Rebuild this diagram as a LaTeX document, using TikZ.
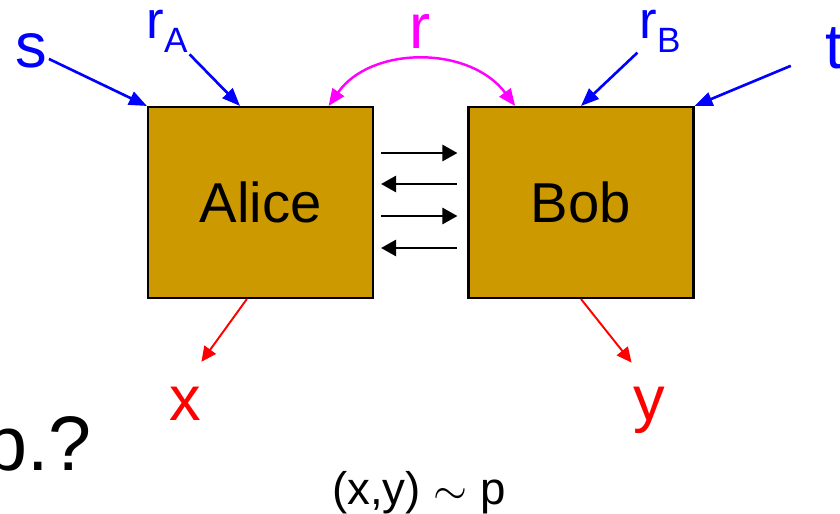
\documentclass[tikz,border=0pt]{standalone}
\usepackage{fontspec}
\setmainfont{Liberation Sans}
\usepackage{tikz}
\usetikzlibrary{calc,arrows.meta}
\definecolor{boxgold}{RGB}{204,153,0}
\definecolor{feedC}{RGB}{0,0,255}
\definecolor{sharedC}{RGB}{255,0,255}
\definecolor{outC}{RGB}{255,0,0}
\newcommand{\lowsub}[1]{\raisebox{-8.5pt}{\fontsize{20}{24}\selectfont #1}}

\begin{document}
\begin{tikzpicture}[x=0.02cm, y=-0.02cm,
    party/.style={draw=black, line width=1.2pt, fill=boxgold,
      minimum width=4.5cm, minimum height=3.82cm, inner sep=0pt,
      font=\fontsize{32}{38}\selectfont},
    lbl/.style={anchor=base, inner sep=1pt, font=\fontsize{36}{42}\selectfont},
    sublbl/.style={anchor=base, inner sep=1pt, font=\fontsize{30}{36}\selectfont},
    feed/.style={feedC, line width=1.5pt, -{Triangle[length=0.36cm,width=0.28cm]}},
    shared/.style={sharedC, line width=1.4pt,
      {Triangle[length=0.34cm,width=0.28cm]}-{Triangle[length=0.34cm,width=0.28cm]}},
    outlink/.style={outC, line width=1.1pt, -{Triangle[length=0.3cm,width=0.28cm]}, shorten >=0.56cm},
    msgR/.style={line width=1.5pt, -{Triangle[length=0.3cm,width=0.32cm]}, shorten <=0.14cm, shorten >=0.2cm},
    msgL/.style={line width=1.5pt, {Triangle[length=0.3cm,width=0.32cm]}-, shorten <=0.14cm, shorten >=0.2cm}]
      \useasboundingbox (0,0) rectangle (840,514);

      % The two parties
      \node[party] (alice) at (260.5,202.5) {Alice};
      \node[party] (bob) at (581,202.5) {Bob};

      % Inputs and randomness
      \node[lbl, feedC] (s) at (31,67) {s};
      \node[lbl, feedC] (t) at (834,68) {t};
      \node[sublbl, feedC] (rA) at (167,38) {r\lowsub{A}};
      \node[sublbl, feedC] (rB) at (660,38) {r\lowsub{B}};
      \node[lbl, sharedC] (r) at (420,48) {r};

      \draw[feed] (s) -- (alice.north west);
      \draw[feed] (rA) -- ($(alice.north west)!0.41!(alice.north east)$);
      \draw[feed] (rB) -- (bob.north);
      \draw[feed, shorten <=0.7cm] (t) -- (bob.north east);

      % Shared randomness
      \draw[shared] ($(alice.north west)!0.8!(alice.north east)$)
        .. controls +(42,-60) and +(-46,-61) .. ($(bob.north west)!0.21!(bob.north east)$);

      % Messages back and forth
      \foreach \yy/\way in {153/msgR, 184/msgL, 216/msgR, 248/msgL}
        \draw[\way] (alice.east |- 0,\yy) -- (bob.west |- 0,\yy);

      % Outputs
      \node[lbl, outC] (x) at (185,420) {x};
      \node[lbl, outC] (y) at (649,420) {y};
      \draw[outlink] ($(alice.south west)!0.44!(alice.south east)$) -- (x.north);
      \draw[outlink] (bob.south) -- (y.north);

      % Other text
      \node[anchor=base east, inner sep=0pt, font=\fontsize{44}{52}\selectfont] (query) at (92,470) {p.?};
      \node[anchor=base, inner sep=0pt, font=\fontsize{26}{31}\selectfont] (dist) at (419,504) {(x,y) $\sim$ p};
    \end{tikzpicture}
\end{document}
